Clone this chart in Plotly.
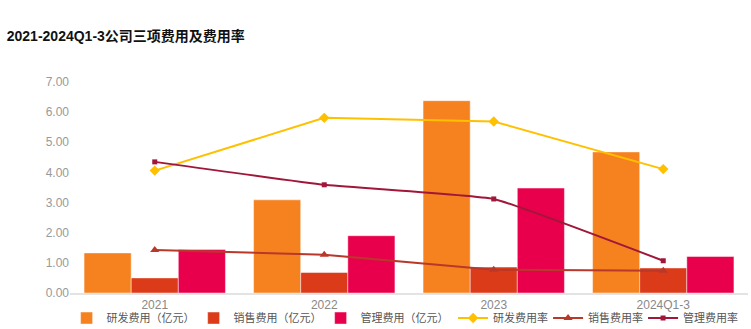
import plotly.graph_objects as go

categories = ["2021", "2022", "2023", "2024Q1-3"]
rd_cost = [1.33, 3.09, 6.38, 4.68]
sales_cost = [0.50, 0.68, 0.86, 0.83]
admin_cost = [1.44, 1.90, 3.48, 1.21]
rd_rate = [4.06, 5.81, 5.69, 4.11]
sales_rate = [1.43, 1.27, 0.77, 0.74]
admin_rate = [4.35, 3.59, 3.12, 1.07]
y_ticks = [0, 1, 2, 3, 4, 5, 6, 7]

FONT = "Liberation Sans, Arial, Noto Sans CJK SC, sans-serif"

fig = go.Figure()
bar_line = dict(color="rgba(255,255,255,0.45)", width=1)
fig.add_trace(go.Bar(name="研发费用（亿元）", x=categories, y=rd_cost,
                     marker=dict(color="#F5821F", line=bar_line), legend="legend"))
fig.add_trace(go.Bar(name="销售费用（亿元）", x=categories, y=sales_cost,
                     marker=dict(color="#DC3B19", line=bar_line), legend="legend"))
fig.add_trace(go.Bar(name="管理费用（亿元）", x=categories, y=admin_cost,
                     marker=dict(color="#E8004C", line=bar_line), legend="legend"))
fig.add_trace(go.Scatter(name="研发费用率", x=categories, y=rd_rate, mode="lines+markers",
                         line=dict(color="#FFC000", width=2),
                         marker=dict(symbol="diamond", size=8, color="#FFC000"),
                         legend="legend2"))
fig.add_trace(go.Scatter(name="销售费用率", x=categories, y=sales_rate, mode="lines+markers",
                         line=dict(color="#B8382A", width=2),
                         marker=dict(symbol="triangle-up", size=8, color="#B8382A"),
                         legend="legend2"))
fig.add_trace(go.Scatter(name="管理费用率", x=categories, y=admin_rate, mode="lines+markers",
                         line=dict(color="#A0173A", width=2, shape="spline", smoothing=0.3),
                         marker=dict(symbol="square", size=5, color="#A0173A"),
                         legend="legend2"))

legend_common = dict(orientation="h", yanchor="top", y=-0.05, xanchor="left",
                     font=dict(size=11, color="#555555"), itemwidth=30,
                     bgcolor="rgba(0,0,0,0)",
                     traceorder="normal", entrywidthmode="pixels")

fig.update_layout(
    width=751, height=329,
    margin=dict(l=70, r=3, t=82, b=36, autoexpand=False),
    paper_bgcolor="white", plot_bgcolor="white",
    font=dict(family=FONT, size=12, color="#888888"),
    title=dict(text="<b>2021-2024Q1-3公司三项费用及费用率</b>", x=0.009, xanchor="left",
               y=1 - 36 / 329, yanchor="middle",
               font=dict(family=FONT, size=14, color="#111111")),
    barmode="group", bargap=0.166, bargroupgap=0,
    showlegend=True,
    legend=dict(legend_common, x=-0.005, entrywidth=82),
    legend2=dict(legend_common, x=0.565, entrywidth=50),
    xaxis=dict(showgrid=False, showline=True, linecolor="#e3e3e3", linewidth=1.5,
               ticks="", tickfont=dict(size=12, color="#888888")),
    yaxis=dict(range=[0, 7], tickvals=y_ticks, tickformat=".2f", showgrid=False,
               zeroline=False, showline=False, ticks="", ticklen=0,
               tickfont=dict(size=12, color="#999999")),
)

fig.write_html("out.html")
